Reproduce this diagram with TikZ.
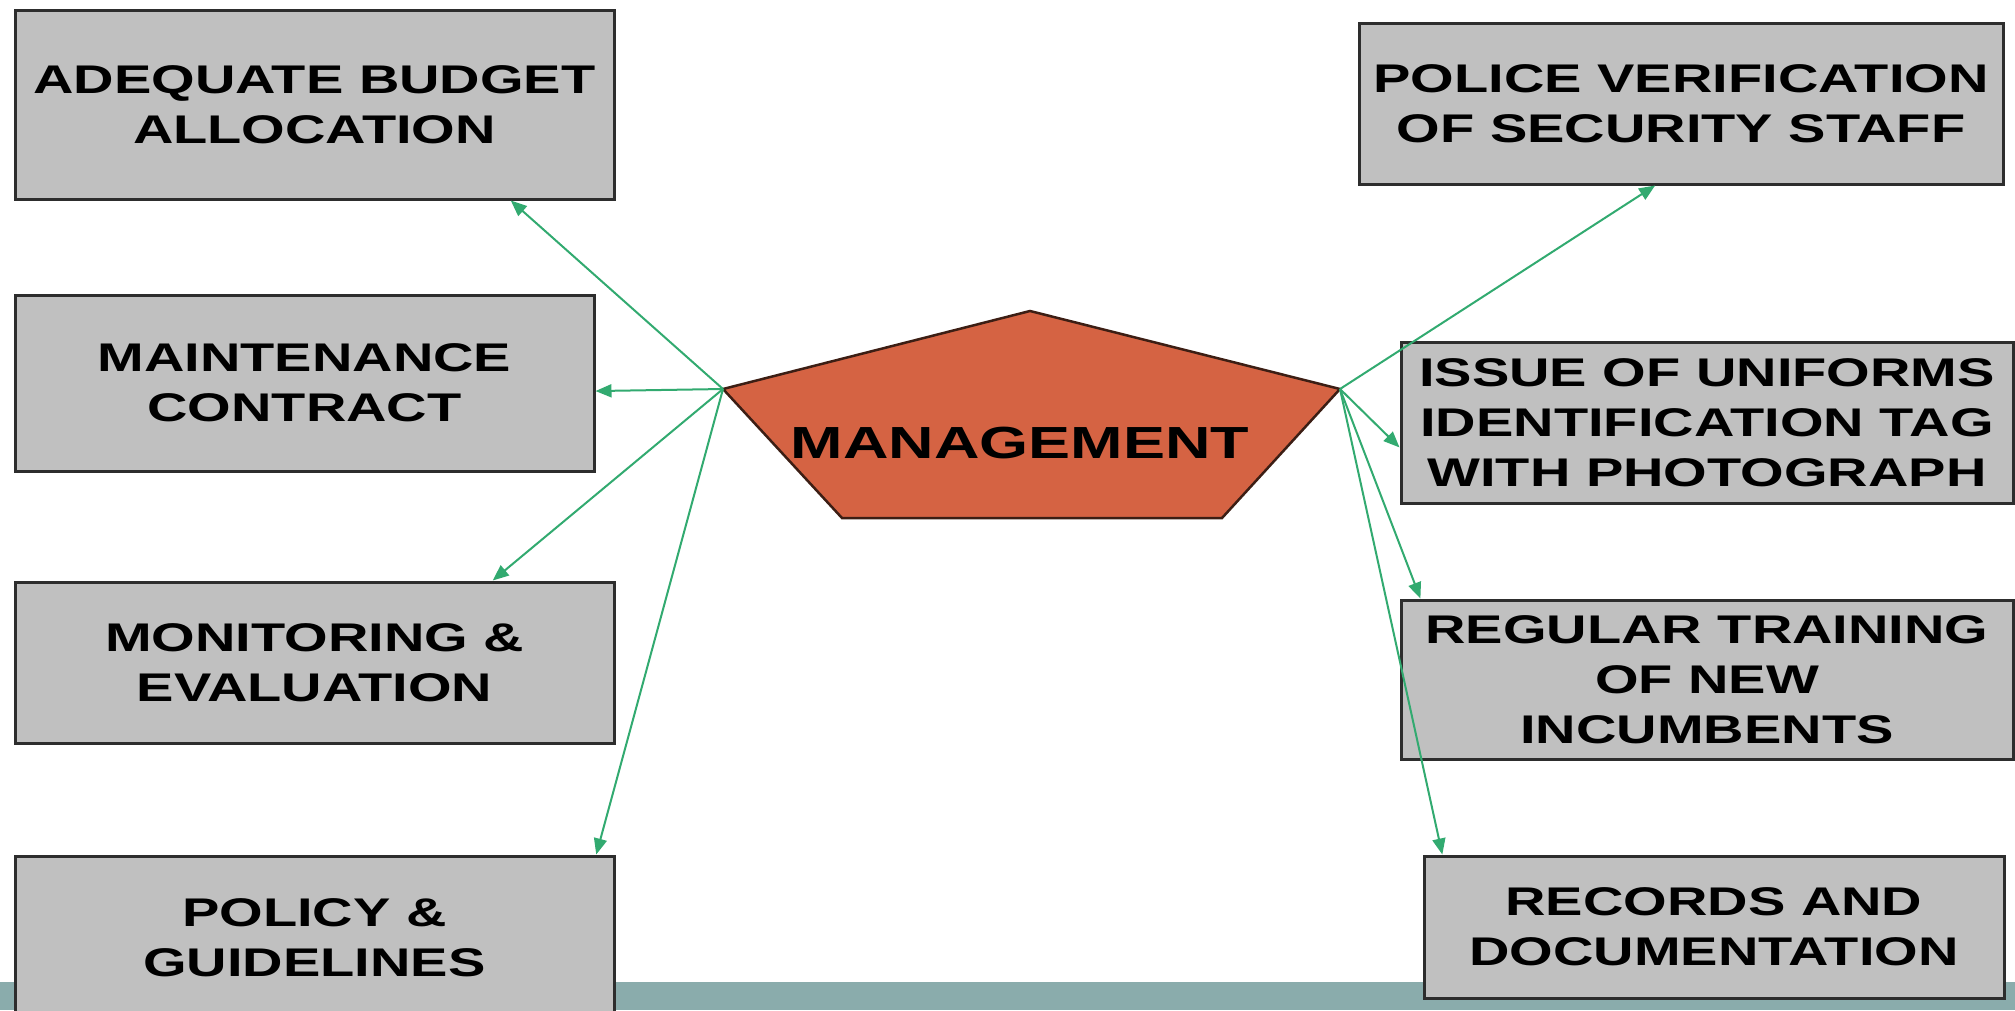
\documentclass[tikz,border=0pt]{standalone}
\usepackage{fontspec}
\usetikzlibrary{arrows.meta,calc}
\newfontfamily\boxfont{Liberation Sans}[FakeStretch=1.4]
\definecolor{boxgray}{RGB}{192,192,192}
\definecolor{boxline}{RGB}{45,45,45}
\definecolor{mgmtfill}{RGB}{213,99,67}
\definecolor{mgmtline}{RGB}{60,30,20}
\definecolor{arrowgreen}{RGB}{50,170,112}
\definecolor{bandteal}{RGB}{138,172,172}
\begin{document}
\begin{tikzpicture}[x=1pt,y=-1pt,
  infobox/.style={draw=boxline, fill=boxgray, line width=3pt, inner sep=0pt,
    align=center, font=\boxfont\bfseries\fontsize{40}{50}\selectfont},
  link/.style={draw=arrowgreen, line width=2pt, -{Triangle[length=16pt,width=13pt]}}]
\useasboundingbox (0,0) rectangle (2015,1010);
\clip (0,0) rectangle (2015,1010);
% bottom band
\fill[bandteal] (0,982) rectangle (2015,1010);
% boxes
\node[infobox, minimum width=599pt, minimum height=189pt] (b1) at (314.5,104.5) {ADEQUATE BUDGET\\ALLOCATION};
\node[infobox, minimum width=579pt, minimum height=176pt] (b2) at (304.5,383) {MAINTENANCE\\CONTRACT};
\node[infobox, minimum width=599pt, minimum height=161pt] (b3) at (314.5,662.5) {MONITORING \&\\EVALUATION};
\node[infobox, minimum width=599pt, minimum height=164pt] (b4) at (314.5,938) {POLICY \&\\GUIDELINES};
\node[infobox, minimum width=644pt, minimum height=161pt] (b5) at (1681,103.5) {POLICE VERIFICATION\\OF SECURITY STAFF};
\node[infobox, minimum width=612pt, minimum height=161pt] (b6) at (1707,422.5) {ISSUE OF UNIFORMS\\IDENTIFICATION TAG\\WITH PHOTOGRAPH};
\node[infobox, minimum width=612pt, minimum height=159pt] (b7) at (1707,679.5) {REGULAR TRAINING\\OF NEW\\INCUMBENTS};
\node[infobox, minimum width=580pt, minimum height=142pt] (b8) at (1714,927) {RECORDS AND\\DOCUMENTATION};
% pentagon
\coordinate (pT) at (1030,311);
\coordinate (pL) at (723,389);
\coordinate (pR) at (1340,389);
\coordinate (pBR) at (1222,518);
\coordinate (pBL) at (842,518);
\draw[fill=mgmtfill, draw=mgmtline, line width=2.5pt, line join=miter] (pT) -- (pR) -- (pBR) -- (pBL) -- (pL) -- cycle;
\node[font=\boxfont\bfseries\fontsize{45}{54}\selectfont, inner sep=0pt] (mg) at (1020,443) {MANAGEMENT};
% connectors
\draw[link] (pL) -- ($(b1.south west)!0.826!(b1.south east)$);
\draw[link] (pL) -- ($(b2.north east)!0.545!(b2.south east)$);
\draw[link] (pL) -- ($(b3.north west)!0.796!(b3.north east)$);
\draw[link] (pL) -- ($(b4.north west)!0.968!(b4.north east)$);
\draw[link] (pR) -- ($(b5.south west)!0.46!(b5.south east)$);
\draw[link] (pR) -- ($(b6.north west)!0.652!(b6.south west)$);
\draw[link] (pR) -- ($(b7.north west)!0.034!(b7.north east)$);
\draw[link] (pR) -- ($(b8.north west)!0.034!(b8.north east)$);
\end{tikzpicture}
\end{document}
